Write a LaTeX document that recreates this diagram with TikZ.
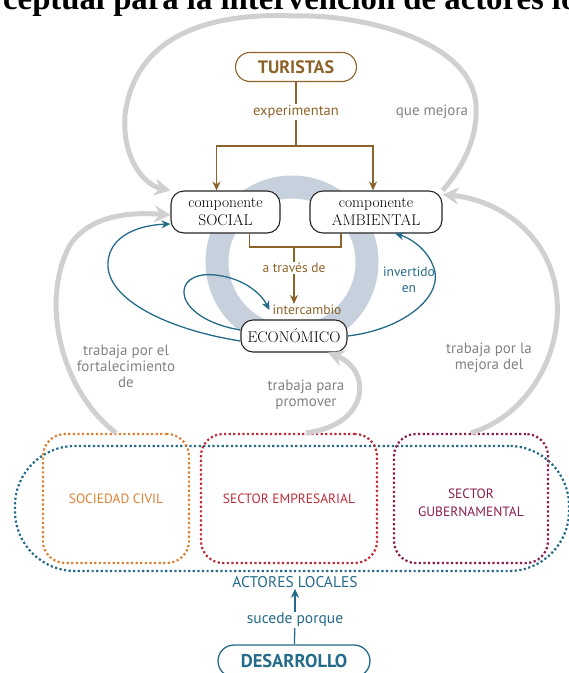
\documentclass[tikz,border=0pt]{standalone}
\usepackage{fontspec}
\setsansfont{PT Sans}
\newfontfamily\titulofont{Liberation Serif}
\usepackage{xcolor}
\usetikzlibrary{
    arrows.meta,
    positioning
}
\definecolor{ocre}{RGB}{140,99,40}
\definecolor{azul}{RGB}{36,107,138}
\definecolor{grisarco}{RGB}{208,208,208}
\definecolor{grisletra}{RGB}{130,130,130}
\definecolor{anillo}{RGB}{199,209,221}
\definecolor{naranja}{RGB}{222,128,50}
\definecolor{rojo}{RGB}{188,45,58}
\definecolor{granate}{RGB}{138,28,78}

\begin{document}
\begin{tikzpicture}[x=1pt, y=-1pt,
    caja/.style={draw=black!85, line width=1.1pt, fill=white, rounded corners=13pt,
        align=center, font=\fontsize{15.5}{18}\selectfont, minimum height=42pt, inner sep=2pt},
    etiqueta/.style={font=\sffamily\fontsize{13.5}{16}\selectfont, align=center, inner sep=1pt},
    nota/.style={font=\sffamily\fontsize{15}{16}\selectfont, align=center, inner sep=1pt, text=grisletra},
    actor/.style={line width=2.2pt, dash pattern=on 2.2pt off 2.4pt, rounded corners=22pt,
        minimum width=146pt, minimum height=129pt, align=center,
        font=\sffamily\fontsize{13.5}{18}\selectfont},
    arco/.style={grisarco, line width=5pt, -{Stealth[length=16pt, width=17pt]}},
    flechaocre/.style={ocre, line width=1.3pt, -{Stealth[length=9pt, width=8pt]}},
    lineaocre/.style={ocre, line width=1.3pt},
    flechaazul/.style={azul, line width=1.3pt, -{Stealth[length=9pt, width=8pt]}}
]
\useasboundingbox (0,0) rectangle (569,673);

% titulo, cortado por arriba
\node[anchor=base west, inner sep=0pt, font=\titulofont\bfseries\fontsize{32.75}{36}\selectfont] (titulo) at (3, 9) {ceptual para la intervención de actores lo};

% anillo de fondo
\draw[anillo, line width=23pt] (292, 262) circle[radius=75pt];

% nodos
\node[caja, draw=ocre, text=ocre, rounded corners=14.5pt, minimum width=121pt, minimum height=29pt,
    font=\sffamily\bfseries\fontsize{18}{20}\selectfont] (tur) at (296, 67) {TURISTAS};
\node[etiqueta, text=ocre, font=\sffamily\fontsize{14.5}{16}\selectfont] (exp) at (296, 112) {experimentan};
\node[caja, minimum width=109pt] (soc) at (225.5, 212) {componente\\SOCIAL};
\node[caja, minimum width=132pt] (amb) at (376, 212) {componente\\AMBIENTAL};
\node[etiqueta, text=ocre] (atr) at (294, 268) {a través de};
\node[etiqueta, text=ocre] (inter) at (307, 310) {intercambio};
\node[caja, minimum width=106pt, minimum height=32pt, rounded corners=12pt, inner xsep=1pt] (eco) at (294, 336) {ECONÓMICO};
\node[etiqueta, text=azul] (inv) at (409, 280) {invertido\\en};

% etiquetas de los arcos grises
\node[nota] (qmj) at (432, 112) {que mejora};
\node[nota] (fort) at (126, 366) {trabaja por el\\fortalecimiento\\de};
\node[nota] (prom) at (306, 395) {trabaja para\\promover};
\node[nota] (mej) at (489, 358) {trabaja por la\\mejora del};

% actores locales
\node[actor, draw=azul, minimum width=554pt, minimum height=125pt, rounded corners=60pt] (loc) at (292, 508.5) {};
\node[actor, draw=naranja, text=naranja] (civ) at (116, 498.5) {SOCIEDAD CIVIL};
\node[actor, draw=rojo, text=rojo, minimum width=176pt] (emp) at (289, 498.5) {SECTOR EMPRESARIAL};
\node[actor, draw=granate, minimum width=154pt] (gob) at (471, 498.5) {};
\node[align=center, text=granate, font=\sffamily\fontsize{13.5}{18}\selectfont] (gobt) at (471, 503) {SECTOR\\GUBERNAMENTAL};

\node[etiqueta, text=azul, font=\sffamily\fontsize{15.5}{16}\selectfont] (act) at (295, 582) {ACTORES LOCALES};
\node[etiqueta, text=azul, font=\sffamily\fontsize{15.5}{16}\selectfont] (suc) at (295, 620) {sucede porque};
\node[draw=azul, line width=1.3pt, rounded corners=16pt, minimum width=152pt, minimum height=32pt, text=azul,
    font=\sffamily\bfseries\fontsize{18.5}{20}\selectfont] (des) at (294, 661) {DESARROLLO};

% conectores ocre
\coordinate (rep) at (296, 146);
\coordinate (une) at (294, 247);
\draw[lineaocre] (tur) -- (exp);
\draw[lineaocre] (exp) -- (rep);
\draw[flechaocre] (rep) -| ([xshift=-9pt]soc.north);
\draw[flechaocre] (rep) -| ([xshift=-3pt]amb.north);
\draw[lineaocre] ([xshift=24pt]soc.south) |- (une) -| ([xshift=-35pt]amb.south);
\draw[lineaocre] (une) -- (atr);
\draw[flechaocre] (atr) -- (atr |- inter.north);

% conectores azules
\draw[flechaazul] ([yshift=-5pt]eco.west) .. controls (170, 330) and (105, 300) .. (108, 262)
    .. controls (110, 235) and (140, 225) .. ([yshift=-12pt]soc.west);
\draw[flechaazul] ([yshift=6pt]eco.west) .. controls (170, 318) and (170, 270) .. (215, 275)
    .. controls (245, 278) and (262, 295) .. ([xshift=-2pt]inter.west);
\draw[flechaazul] (eco.east) .. controls (400, 330) and (440, 300) .. (435, 272)
    .. controls (430, 250) and (410, 238) .. ([xshift=19pt]amb.south);
\draw[flechaazul] (suc) -- (act);
\draw[azul, line width=1.3pt] (des) -- (suc);

% arcos grises
\draw[arco] (amb.north east) .. controls (465, 165) and (478, 135) .. (476, 105)
    .. controls (472, 40) and (360, 14) .. (295, 16)
    .. controls (210, 12) and (135, 35) .. (125, 115)
    .. controls (122, 160) and (145, 185) .. (soc.north west);
\draw[arco] (civ.north) .. controls (60, 390) and (40, 300) .. (70, 245)
    .. controls (90, 215) and (130, 212) .. ([yshift=-3pt]soc.west);
\draw[arco] ([xshift=17pt]emp.north) .. controls (370, 425) and (372, 370) .. ([xshift=34pt]eco.south);
\draw[arco] (gob.north) .. controls (530, 415) and (565, 350) .. (556, 290)
    .. controls (548, 235) and (500, 200) .. ([yshift=-4pt]amb.north east);
\end{tikzpicture}
\end{document}
